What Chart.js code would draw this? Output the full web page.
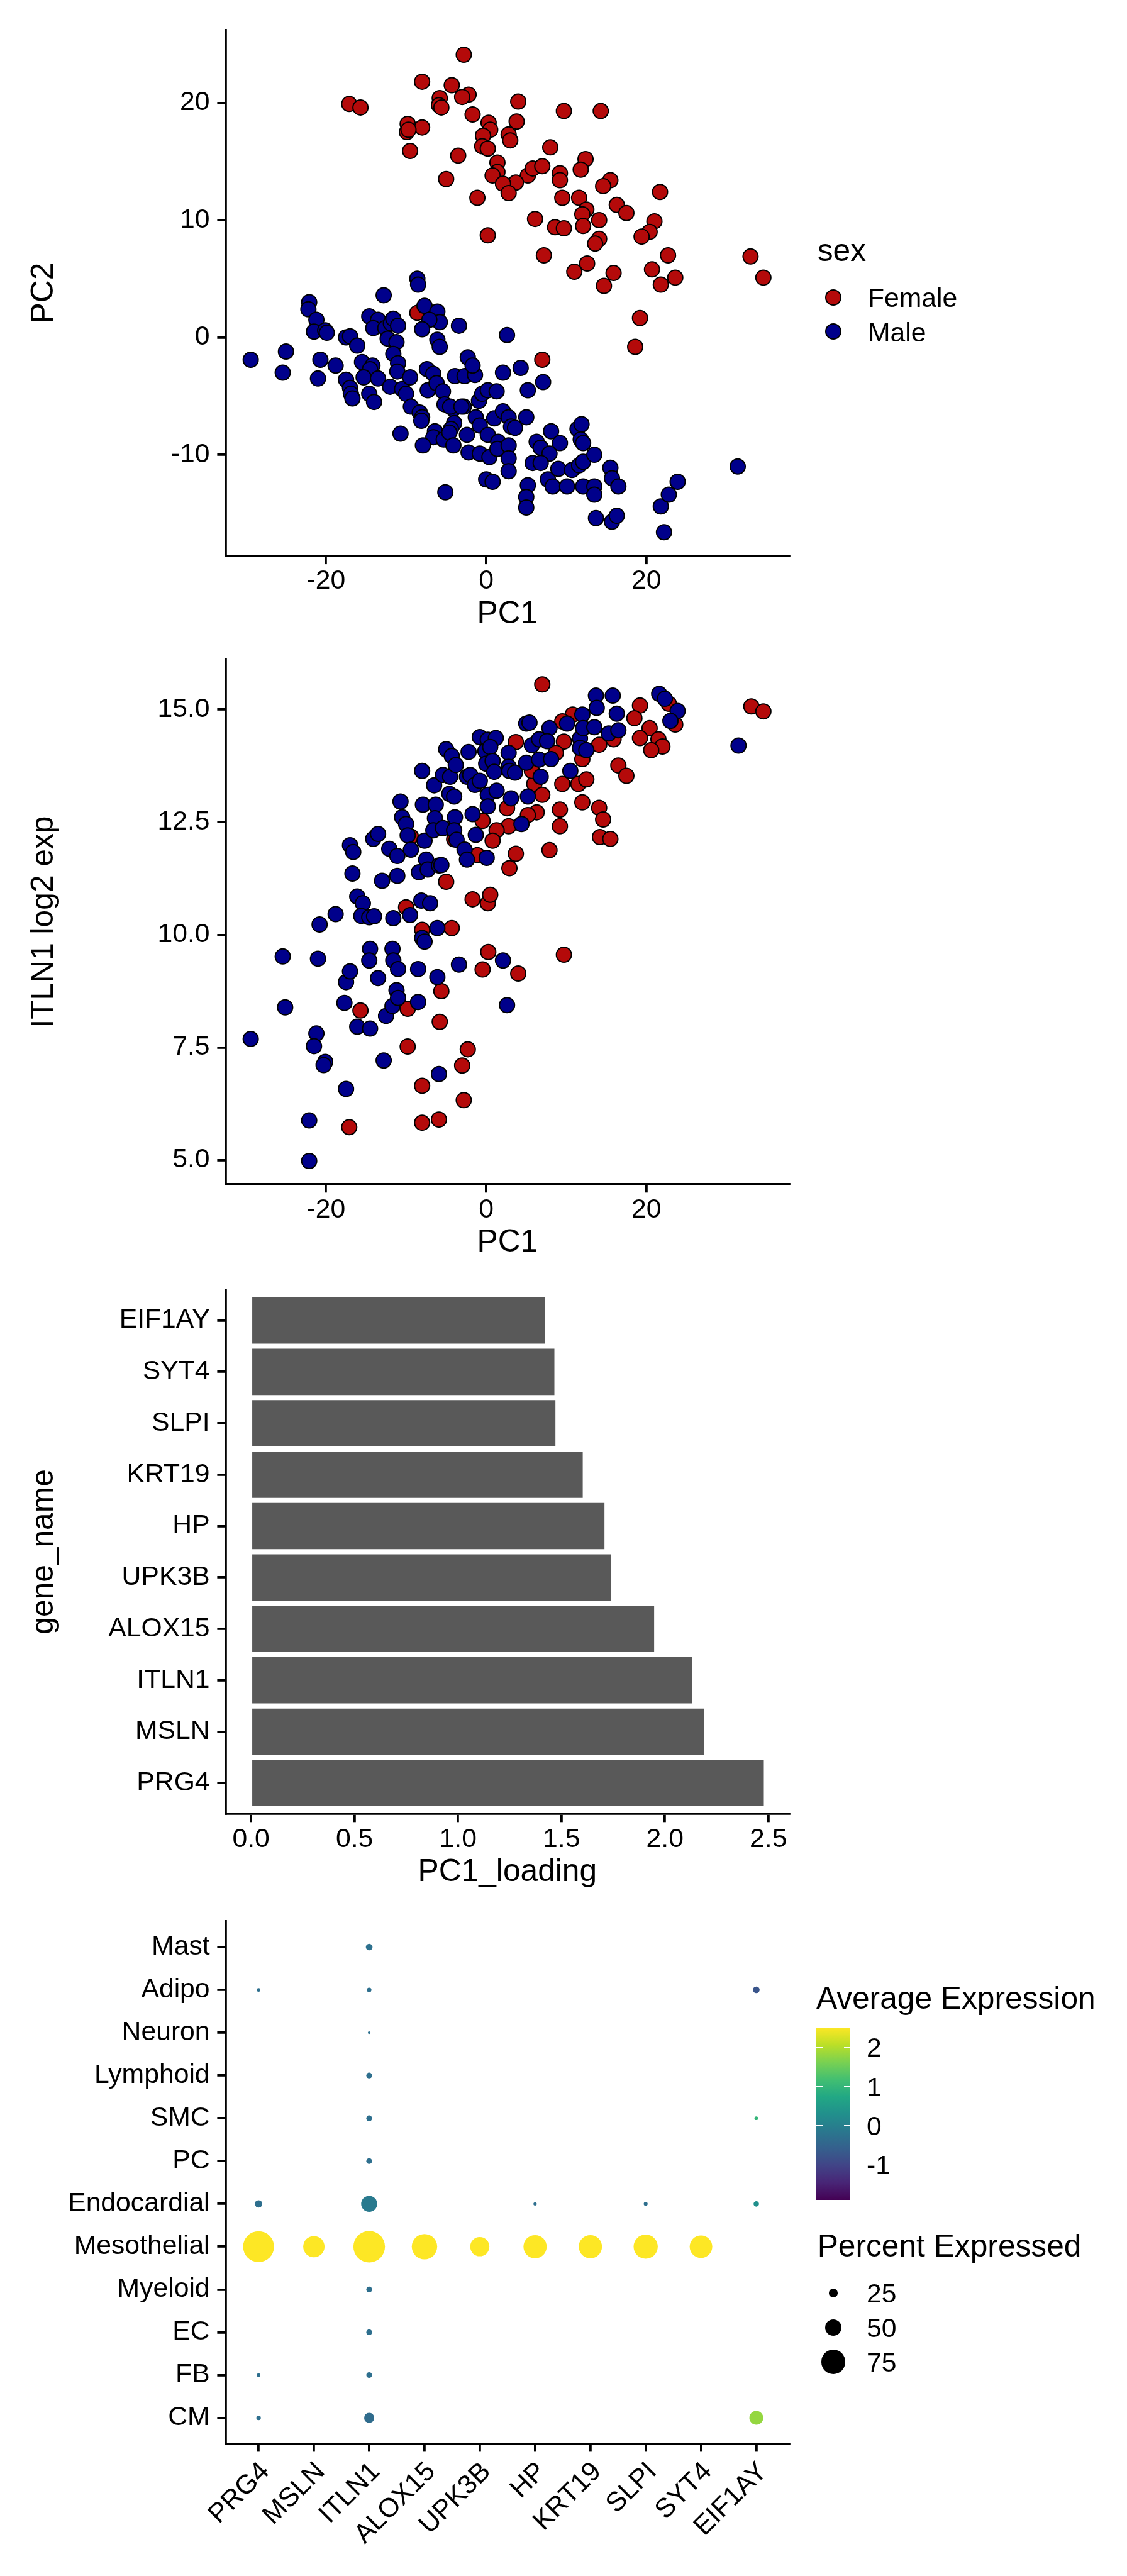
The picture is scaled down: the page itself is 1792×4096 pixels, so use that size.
<!DOCTYPE html>
<html><head><meta charset="utf-8">
<script src="https://cdn.jsdelivr.net/npm/chart.js@4.4.1/dist/chart.umd.min.js"></script>
<style>
html,body{margin:0;padding:0;background:#fff;}
#root{position:relative;width:1792px;height:4096px;overflow:hidden;background:#fff;font-family:"Liberation Sans",Arial,Helvetica,sans-serif;color:#000;}
canvas{position:absolute;left:0;}
.t{position:absolute;white-space:nowrap;line-height:1;}
.dot{position:absolute;border-radius:50%;box-sizing:border-box;}
</style></head><body><div id="root">
<canvas id="c1" width="1792" height="1030" style="top:0px;width:1792px;height:1030px"></canvas>
<canvas id="c2" width="1792" height="1000" style="top:1030px;width:1792px;height:1000px"></canvas>
<canvas id="c3" width="1792" height="1000" style="top:2030px;width:1792px;height:1000px"></canvas>
<canvas id="c4" width="1792" height="1066" style="top:3030px;width:1792px;height:1066px"></canvas>
</div>
<script>
// ---------------- DATA ----------------
const sexLevels = ['Female', 'Male'];
const femalePC = [[-2.8,24.1],[-8.0,21.8],[-4.3,21.5],[-2.2,20.7],[-3.0,20.5],[-5.8,20.4],[-5.9,19.8],[-5.6,19.6],[-17.1,19.9],[-15.7,19.6],[4.0,20.1],[9.7,19.3],[14.3,19.3],[-1.7,19.0],[-9.8,18.2],[-8.0,17.9],[-9.9,17.5],[-9.7,17.7],[0.3,18.3],[3.8,18.4],[0.5,17.7],[-0.4,17.2],[2.8,17.3],[3.0,16.8],[-0.5,16.3],[0.2,16.1],[-9.5,15.9],[-3.5,15.5],[8.0,16.2],[1.4,14.9],[12.4,15.2],[5.2,13.8],[5.8,14.4],[7.0,14.6],[1.4,14.1],[0.8,13.8],[9.2,14.0],[11.8,14.3],[9.2,13.4],[-5.0,13.5],[3.7,13.2],[2.1,13.1],[2.8,12.3],[15.5,13.4],[14.6,12.9],[-1.1,11.9],[9.5,11.9],[11.6,11.9],[12.5,10.9],[16.3,11.3],[17.5,10.6],[21.7,12.4],[6.1,10.1],[12.0,10.5],[14.1,10.0],[8.6,9.4],[9.7,9.3],[12.1,9.5],[21.0,9.9],[20.4,9.0],[19.4,8.6],[0.2,8.7],[14.1,8.4],[13.6,8.0],[7.2,7.0],[22.7,7.0],[12.6,6.3],[11.0,5.6],[15.9,5.5],[20.7,5.8],[21.8,4.5],[23.6,5.1],[14.7,4.4],[33.0,6.9],[34.6,5.1],[19.2,1.65],[18.6,-0.8],[7.0,-1.9],[-8.6,2.1]];
const malePC = [[-29.4,-1.9],[-25.0,-1.2],[-25.4,-3.0],[-22.1,3.0],[-22.2,2.4],[-21.2,1.5],[-21.5,0.5],[-20.1,0.6],[-19.9,0.4],[-20.7,-1.9],[-21.0,-3.5],[-18.8,-2.4],[-17.5,0.0],[-17.0,0.1],[-16.1,-0.7],[-17.5,-3.6],[-17.0,-4.3],[-16.9,-4.8],[-16.7,-5.2],[-15.5,-2.1],[-14.2,-2.4],[-14.5,-2.7],[-15.3,-3.4],[-13.5,-3.5],[-14.6,-4.8],[-14.0,-5.5],[-12.8,3.6],[-14.6,1.8],[-13.5,1.5],[-14.1,0.8],[-12.6,0.8],[-11.9,1.2],[-11.6,1.6],[-11.0,1.0],[-12.3,-0.1],[-11.2,-0.4],[-11.6,-1.4],[-11.0,-2.2],[-11.1,-2.9],[-12.0,-4.2],[-10.5,-4.4],[-10.0,-4.8],[-9.5,-3.4],[-8.6,5.0],[-8.5,4.5],[-7.7,2.7],[-6.1,2.2],[-5.8,1.3],[-7.1,1.5],[-8.0,0.7],[-6.1,-0.2],[-5.8,-0.8],[-3.4,1.0],[-7.4,-2.7],[-6.6,-3.1],[-7.3,-4.5],[-6.2,-3.9],[-5.4,-4.6],[-9.4,-5.9],[-8.3,-6.4],[-8.0,-6.8],[-8.1,-7.1],[-5.2,-5.7],[-4.1,-6.1],[-3.9,-3.3],[-2.7,-3.3],[-1.4,-3.2],[-2.3,-1.7],[-1.7,-2.4],[-2.8,-5.9],[-4.0,-7.3],[-4.4,-7.8],[-6.4,-8.0],[-6.6,-8.5],[-5.3,-8.7],[-4.6,-8.1],[-4.1,-9.2],[-7.9,-9.2],[-10.7,-8.2],[-2.4,-8.3],[-2.2,-9.8],[-0.8,-9.9],[0.4,-10.2],[0.0,-12.1],[0.8,-12.3],[-5.1,-13.2],[-1.3,-6.8],[-0.9,-5.4],[-0.5,-4.8],[0.2,-4.5],[1.3,-4.6],[-0.8,-7.5],[0.2,-8.3],[1.0,-6.9],[1.5,-8.9],[1.4,-9.5],[2.1,-3.0],[2.6,0.2],[2.1,-6.3],[2.8,-6.8],[3.1,-7.6],[3.6,-7.7],[2.8,-9.2],[2.8,-10.3],[2.8,-11.4],[4.3,-2.6],[5.2,-4.5],[5.0,-6.8],[7.1,-3.8],[6.3,-8.9],[6.8,-9.4],[7.9,-9.9],[5.8,-10.7],[6.8,-10.7],[8.1,-8.0],[9.2,-9.0],[5.2,-12.6],[5.0,-13.6],[5.0,-14.5],[7.7,-12.1],[8.3,-12.7],[10.1,-12.7],[9.0,-11.2],[10.7,-11.3],[11.6,-10.9],[11.4,-7.8],[11.9,-7.4],[11.8,-8.7],[12.1,-9.0],[12.1,-10.6],[12.1,-12.7],[13.5,-12.7],[13.5,-13.4],[13.5,-10.0],[15.5,-11.1],[15.7,-12.0],[16.5,-12.7],[13.7,-15.4],[15.7,-15.7],[16.3,-15.2],[21.8,-14.4],[22.8,-13.4],[23.9,-12.3],[22.2,-16.6],[31.4,-11.0],[-4.5,-5.9],[-3.1,-5.9]];
const femaleITLN1 = [[7.0,15.56],[19.2,15.09],[18.5,14.81],[20.4,14.59],[19.2,14.37],[21.5,14.34],[22.0,14.18],[20.6,14.10],[23.6,14.67],[22.8,15.13],[33.1,15.07],[34.6,14.96],[10.8,14.89],[9.5,14.74],[3.7,14.28],[9.7,14.29],[14.1,14.22],[15.9,14.34],[8.7,14.04],[12.0,13.90],[16.5,13.76],[17.5,13.53],[9.5,13.35],[11.5,13.35],[12.5,13.45],[6.0,13.35],[7.0,13.11],[5.7,13.64],[12.0,12.94],[14.1,12.82],[14.6,12.56],[9.2,12.78],[9.2,12.41],[6.3,12.72],[5.2,12.66],[2.8,12.41],[1.3,12.32],[0.8,12.09],[-0.45,12.53],[2.6,12.81],[3.7,11.80],[2.9,11.48],[7.9,11.88],[14.2,12.17],[15.5,12.13],[-1.1,11.77],[-4.0,12.12],[-9.4,12.18],[-5.0,11.18],[-1.7,10.79],[0.2,10.70],[0.5,10.89],[-10.0,10.61],[-8.0,10.11],[-4.3,10.15],[0.26,9.62],[-0.45,9.23],[4.0,9.14],[9.7,9.56],[-5.6,8.75],[-15.7,8.32],[-9.8,8.36],[-5.8,8.07],[-9.8,7.52],[-2.3,7.46],[-3.0,7.10],[-8.0,6.65],[-5.9,5.90],[-8.0,5.83],[-17.1,5.73],[-2.8,6.33]];
const maleITLN1 = [[-29.4,7.69],[-25.4,9.52],[-25.1,8.39],[-22.1,5.88],[-22.1,4.98],[-21.2,7.81],[-21.5,7.53],[-20.1,7.18],[-20.3,7.11],[-21.0,9.47],[-20.8,10.23],[-18.8,10.46],[-17.5,6.58],[-17.7,8.49],[-17.5,8.95],[-17.0,9.19],[-17.0,11.99],[-16.6,11.84],[-16.7,11.36],[-16.1,10.85],[-15.4,10.70],[-15.6,10.42],[-14.6,10.39],[-14.0,10.41],[-16.1,7.96],[-14.5,7.92],[-14.5,9.69],[-14.6,9.43],[-13.5,9.04],[-14.1,12.13],[-13.5,12.24],[-13.0,11.20],[-12.8,7.21],[-12.5,8.20],[-11.7,8.42],[-11.2,8.77],[-11.0,8.60],[-11.7,9.69],[-11.6,9.43],[-11.0,9.24],[-11.6,10.37],[-11.1,11.31],[-12.1,11.91],[-11.1,11.75],[-10.7,12.96],[-10.5,12.61],[-10.0,12.46],[-9.8,12.21],[-9.4,11.89],[-9.5,10.44],[-8.5,9.24],[-8.5,8.51],[-8.0,13.64],[-7.9,12.89],[-7.7,12.09],[-7.5,11.67],[-8.4,11.39],[-7.3,11.45],[-8.1,10.76],[-7.0,10.70],[-8.0,9.93],[-7.7,9.85],[-6.1,10.15],[-5.9,11.54],[-5.6,11.55],[-6.5,13.32],[-6.3,12.89],[-6.4,12.59],[-6.6,12.32],[-6.1,9.06],[-5.9,6.91],[-5.4,13.55],[-5.0,14.12],[-4.3,13.97],[-4.5,13.51],[-5.4,12.37],[-4.6,13.13],[-4.0,13.07],[-3.9,12.61],[-4.0,12.32],[-3.7,12.11],[-2.7,11.89],[-2.4,11.67],[-3.4,9.34],[-3.8,13.77],[-2.4,13.51],[-2.2,14.06],[-2.0,13.55],[-1.4,13.33],[-1.7,12.68],[-1.3,12.22],[-0.8,14.39],[0.2,14.33],[-0.1,14.08],[0.0,13.80],[-0.8,13.42],[0.2,13.11],[0.2,12.85],[0.06,11.71],[1.2,14.37],[0.5,14.17],[0.8,13.86],[1.0,13.62],[1.3,13.20],[2.1,9.43],[2.6,8.44],[2.8,14.04],[2.8,13.73],[2.9,13.64],[3.1,13.03],[3.6,13.60],[4.4,12.46],[5.0,14.69],[5.4,14.71],[5.0,13.82],[5.2,13.07],[5.7,14.21],[6.6,14.34],[6.6,13.89],[6.8,13.51],[7.9,14.59],[8.1,13.90],[7.6,14.30],[10.1,14.69],[10.5,13.64],[11.7,14.36],[11.7,14.15],[12.0,14.89],[12.5,14.10],[12.1,14.59],[13.5,14.61],[13.7,15.31],[13.8,15.04],[15.3,14.47],[15.8,15.31],[16.3,14.91],[16.5,14.54],[21.6,15.35],[22.3,15.24],[23.9,14.97],[23.0,14.75],[31.5,14.20]];

const pc1Ticks = [-20, 0, 20];
const pc2Ticks = [-10, 0, 10, 20];
const itln1Ticks = [5.0, 7.5, 10.0, 12.5, 15.0];

const loadingGenes = ['EIF1AY','SYT4','SLPI','KRT19','HP','UPK3B','ALOX15','ITLN1','MSLN','PRG4'];
const loadingValues = [1.419, 1.466, 1.471, 1.603, 1.708, 1.741, 1.948, 2.130, 2.188, 2.478];
const loadingTicks = [0.0, 0.5, 1.0, 1.5, 2.0, 2.5];

const dotGenes = ['PRG4','MSLN','ITLN1','ALOX15','UPK3B','HP','KRT19','SLPI','SYT4','EIF1AY'];
const cellTypes = ['Mast','Adipo','Neuron','Lymphoid','SMC','PC','Endocardial','Mesothelial','Myeloid','EC','FB','CM'];
const pctExpressed = [
  [0,0,19,0,0,0,0,0,0,0],
  [9,0,12,0,0,0,0,0,0,19],
  [0,0,6,0,0,0,0,0,0,0],
  [0,0,16,0,0,0,0,0,0,0],
  [0,0,16,0,0,0,0,0,0,9],
  [0,0,16,0,0,0,0,0,0,0],
  [21,0,49,0,0,8,0,10,0,15],
  [97,66,99,79,59,72,72,75,70,0],
  [0,0,16,0,0,0,0,0,0,0],
  [0,0,16,0,0,0,0,0,0,0],
  [9,0,16,0,0,0,0,0,0,0],
  [12,0,30,0,0,0,0,0,0,42]
];
const avgExpression = [
  [null,null,-0.27,null,null,null,null,null,null,null],
  [-0.3,null,-0.3,null,null,null,null,null,null,-0.75],
  [null,null,-0.3,null,null,null,null,null,null,null],
  [null,null,-0.3,null,null,null,null,null,null,null],
  [null,null,-0.3,null,null,null,null,null,null,1.0],
  [null,null,-0.3,null,null,null,null,null,null,null],
  [-0.3,null,-0.09,null,null,-0.3,null,-0.3,null,0.3],
  [2.5,2.5,2.5,2.5,2.5,2.5,2.5,2.5,2.5,null],
  [null,null,-0.3,null,null,null,null,null,null,null],
  [null,null,-0.3,null,null,null,null,null,null,null],
  [-0.3,null,-0.3,null,null,null,null,null,null,null],
  [-0.3,null,-0.36,null,null,null,null,null,null,1.8]
];
const avgExpLimits = [-1.89, 2.5];
const avgExpTicks = [2, 1, 0, -1];
const pctTicks = [25, 50, 75];

// ---------------- STYLE ----------------
const FONT = '"Liberation Sans", Arial, Helvetica, sans-serif';
const TICK = 42.7, TITLE = 49.7, TL = 13, LW = 3.8;
const FEMALE = '#B40A0A', MALE = '#00008B';
const VIRIDIS = ['#440154','#482576','#414487','#35608D','#2A788E','#21908C','#22A884','#43BF71','#7AD151','#BBDF27','#FDE725'];
function hex2rgb(h){return [parseInt(h.slice(1,3),16),parseInt(h.slice(3,5),16),parseInt(h.slice(5,7),16)];}
function viridis(v){
  let t = (v - avgExpLimits[0]) / (avgExpLimits[1] - avgExpLimits[0]);
  t = Math.max(0, Math.min(1, t));
  const p = t * 10, i = Math.min(9, Math.floor(p)), f = p - i;
  const a = hex2rgb(VIRIDIS[i]), b = hex2rgb(VIRIDIS[i+1]);
  return 'rgb(' + a.map((c,k)=>Math.round(c + (b[k]-c)*f)).join(',') + ')';
}
function dotRadius(p){ return p > 0 ? 0.8533 * (0.58 * p + 1.5) / 2 : 0; }

Chart.defaults.font.family = FONT;
Chart.defaults.color = '#000';

function axis(o){
  const left = o.position === 'left';
  return {
    type: 'linear', position: o.position, min: o.min, max: o.max, bounds: 'data',
    offset: false,
    afterBuildTicks: s => { s.ticks = o.ticks.map(v => ({value: v})); },
    afterFit: s => {
      if (left) s.width = o.size; else s.height = o.size;
      s.paddingTop = 0; s.paddingBottom = 0; s.paddingLeft = 0; s.paddingRight = 0;
    },
    ticks: {
      autoSkip: false, color: '#000', padding: o.pad,
      font: {family: FONT, size: TICK, lineHeight: o.tickLH || 1.2},
      callback: o.fmt, minRotation: o.rot || 0, maxRotation: o.rot || 0, labelOffset: o.labelOffset || 0
    },
    grid: {display: true, offset: false, drawOnChartArea: false, drawTicks: true, tickLength: TL, color: '#000', lineWidth: LW},
    border: {display: true, color: '#000', width: LW},
    title: o.title ? {display: true, text: o.title, color: '#000',
      font: {family: FONT, size: TITLE, lineHeight: 1.2},
      padding: left ? {top: 40.9, bottom: 0} : {top: 0, bottom: 0}} : {display: false}
  };
}
const baseOpts = {responsive: false, animation: false, devicePixelRatio: 1, events: [],
  plugins: {legend: {display: false}, tooltip: {enabled: false}}};

function pts(arr){ return arr.map(p => ({x: p[0], y: p[1]})); }
function scatterDS(arr, color){
  return {data: pts(arr), backgroundColor: color, borderColor: '#000', borderWidth: 2, pointRadius: 12, pointHoverRadius: 12};
}
const Y_W = 358.4;

// Panel 1
new Chart(document.getElementById('c1'), {
  type: 'scatter',
  data: {datasets: [scatterDS(malePC, MALE), scatterDS(femalePC, FEMALE)]},
  options: Object.assign({}, baseOpts, {
    layout: {padding: {left: 0, top: 47.8, right: 536.7, bottom: 23.3}},
    scales: {
      x: axis({position: 'bottom', min: -32.56, max: 37.86, ticks: pc1Ticks, size: 122.6, pad: 2, fmt: v => String(v), title: 'PC1'}),
      y: axis({position: 'left', min: -18.63, max: 26.2, ticks: pc2Ticks, size: Y_W, pad: 11.8, fmt: v => String(v), title: 'PC2'})
    }
  })
});
// Panel 2
new Chart(document.getElementById('c2'), {
  type: 'scatter',
  data: {datasets: [scatterDS(maleITLN1, MALE), scatterDS(femaleITLN1, FEMALE)]},
  options: Object.assign({}, baseOpts, {
    layout: {padding: {left: 0, top: 18.8, right: 536.7, bottom: 24.1}},
    scales: {
      x: axis({position: 'bottom', min: -32.56, max: 37.86, ticks: pc1Ticks, size: 122.6, pad: 2, fmt: v => String(v), title: 'PC1'}),
      y: axis({position: 'left', min: 4.46, max: 16.11, ticks: itln1Ticks, size: Y_W, pad: 11.8, fmt: v => v.toFixed(1), title: 'ITLN1 log2 exp'})
    }
  })
});
// Panel 3
const NB = loadingGenes.length;
new Chart(document.getElementById('c3'), {
  type: 'bar',
  data: {datasets: [{
    data: loadingGenes.map((g, i) => ({x: loadingValues[i], y: NB - i})),
    backgroundColor: '#595959', borderWidth: 0, barPercentage: 0.9, categoryPercentage: 1.0
  }]},
  options: Object.assign({}, baseOpts, {
    indexAxis: 'y',
    layout: {padding: {left: 0, top: 20.6, right: 536.7, bottom: 23.1}},
    scales: {
      x: axis({position: 'bottom', min: -0.1239, max: 2.602, ticks: loadingTicks, size: 122.6, pad: 2, fmt: v => v.toFixed(1), title: 'PC1_loading'}),
      y: axis({position: 'left', min: 0.4, max: NB + 0.6, ticks: loadingGenes.map((g, i) => NB - i), size: Y_W, pad: 11.8, fmt: v => loadingGenes[NB - v], title: 'gene_name'})
    }
  })
});
// Panel 4
const NC = cellTypes.length, NG = dotGenes.length;
const dotData = [];
cellTypes.forEach((c, r) => dotGenes.forEach((g, k) => {
  if (pctExpressed[r][k] > 0) dotData.push({x: k + 1, y: NC - r, pct: pctExpressed[r][k], avg: avgExpression[r][k]});
}));
new Chart(document.getElementById('c4'), {
  type: 'scatter',
  data: {datasets: [{
    data: dotData,
    pointRadius: ctx => dotRadius(ctx.raw ? ctx.raw.pct : 0),
    pointHoverRadius: ctx => dotRadius(ctx.raw ? ctx.raw.pct : 0),
    backgroundColor: ctx => viridis(ctx.raw ? ctx.raw.avg : 0),
    borderWidth: 0
  }]},
  options: Object.assign({}, baseOpts, {
    layout: {padding: {left: 0, top: 20.8, right: 536.7, bottom: 30.6}},
    scales: {
      x: axis({position: 'bottom', min: 0.4, max: NG + 0.6, ticks: dotGenes.map((g, k) => k + 1), size: 180, pad: 13.9, tickLH: 0.74, rot: 45, labelOffset: 10.8, fmt: v => dotGenes[v - 1]}),
      y: axis({position: 'left', min: 0.4, max: NC + 0.6, ticks: cellTypes.map((c, r) => NC - r), size: Y_W, pad: 11.8, fmt: v => cellTypes[NC - v]})
    }
  })
});

// ---------------- LEGENDS (HTML) ----------------
const root = document.getElementById('root');
function addText(txt, left, baseline, size){
  const d = document.createElement('div');
  d.className = 't'; d.textContent = txt;
  d.style.fontSize = size + 'px';
  d.style.left = left + 'px';
  d.style.top = (baseline - 0.8465 * size) + 'px';
  root.appendChild(d); return d;
}
function addDot(cx, cy, diam, fill, border){
  const d = document.createElement('div');
  d.className = 'dot';
  d.style.width = diam + 'px'; d.style.height = diam + 'px';
  d.style.left = (cx - diam / 2) + 'px'; d.style.top = (cy - diam / 2) + 'px';
  d.style.background = fill;
  if (border) d.style.border = border;
  root.appendChild(d);
}
// sex legend
addText('sex', 1299.7, 415.6, TITLE);
[[sexLevels[0], FEMALE, 472.7], [sexLevels[1], MALE, 527.4]].forEach(([lab, col, cy]) => {
  addDot(1325.2, cy, 26, col, '2px solid #000');
  addText(lab, 1379.9, cy + 15.4, TICK);
});
// colour bar legend
addText('Average Expression', 1297.9, 3194.9, TITLE);
const cb = {left: 1297.9, top: 3223.9, w: 54.6, h: 273.9};
const bar = document.createElement('div');
bar.style.cssText = 'position:absolute;left:' + cb.left + 'px;top:' + cb.top + 'px;width:' + cb.w + 'px;height:' + cb.h + 'px;background:linear-gradient(to top,' + VIRIDIS.join(',') + ');';
root.appendChild(bar);
avgExpTicks.forEach(v => {
  const y = cb.top + (avgExpLimits[1] - v) / (avgExpLimits[1] - avgExpLimits[0]) * cb.h;
  [0, cb.w - 10.8].forEach(x0 => {
    const tk = document.createElement('div');
    tk.style.cssText = 'position:absolute;background:#fff;height:1px;width:10.8px;left:' + (cb.left + x0) + 'px;top:' + (y - 0.5) + 'px;';
    root.appendChild(tk);
  });
  addText(String(v), 1378, y + 15.3, TICK);
});
// size legend
addText('Percent Expressed', 1299.7, 3589.1, TITLE);
[3646.3, 3700.9, 3755.5].forEach((cy, i) => {
  addDot(1325.2, cy, 2 * dotRadius(pctTicks[i]), '#000');
  addText(String(pctTicks[i]), 1378, cy + 15.3, TICK);
});
</script></body></html>
